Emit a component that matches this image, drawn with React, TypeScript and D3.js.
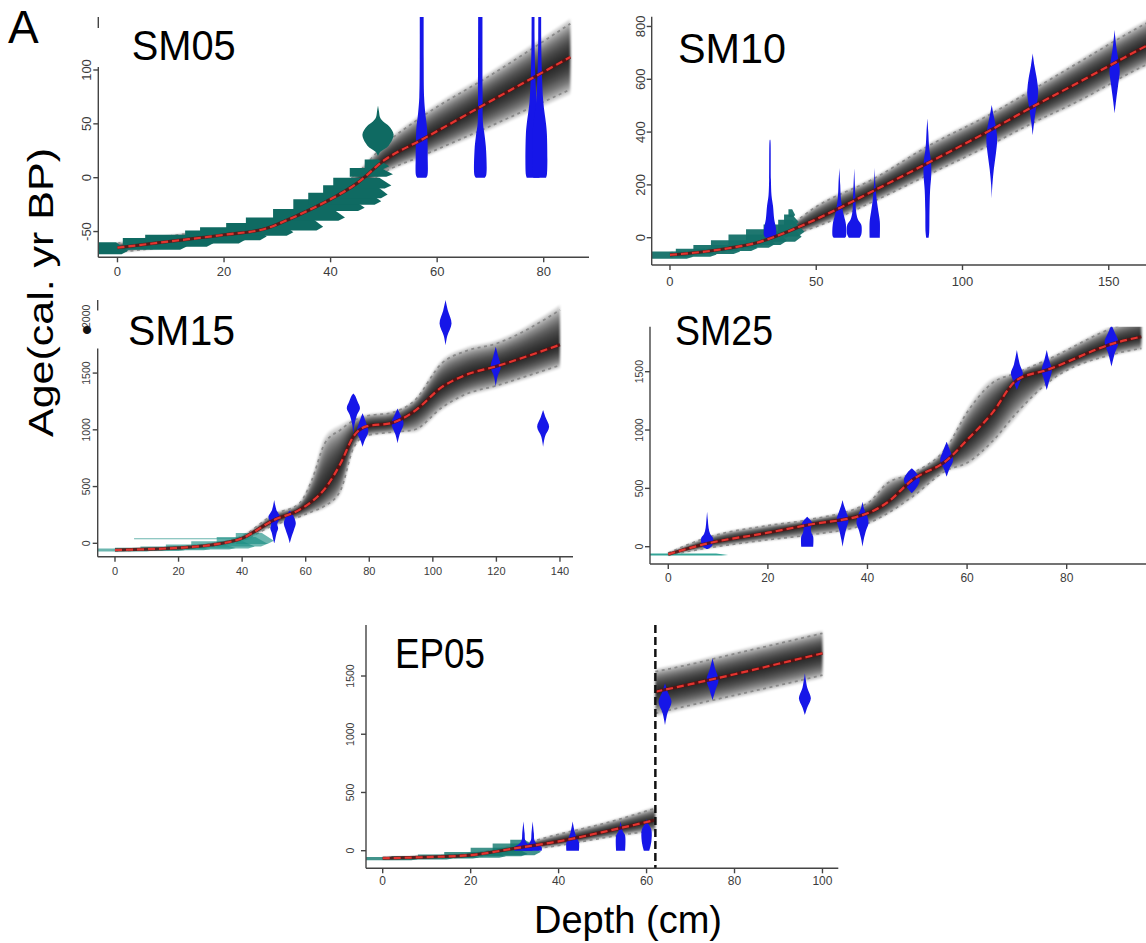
import React from 'react';
import * as d3 from 'd3';

type Prof = [number, number][];
interface DateV { depth: number; profile: Prof }
type Pb = [number, number, number, number]; // depth start, depth end, top age, bottom age
interface Segment { depth: number[]; mean: number[]; low: number[]; high: number[] }

// ---------------- SM05 ----------------
const sm05Depth = [0, 10, 20, 28, 32, 36, 40, 45, 50, 57, 70, 85];
const sm05Mean = [-65, -59, -53, -47, -39, -30, -20, -5, 16, 35, 71, 112];
const sm05Low = [-69, -64, -58, -52, -45, -36, -26, -12, 5, 20, 48, 82];
const sm05High = [-61, -54, -48, -42, -33, -24, -14, 4, 30, 56, 95, 143];
const sm05Dates: DateV[] = [
  { depth: 57.1, profile: [[0, 0.75], [2, 0.95], [20, 1.0], [45, 0.9], [60, 0.6], [75, 0.4], [110, 0.33], [170, 0.33]] },
  { depth: 68.1, profile: [[0, 0.75], [2, 0.97], [25, 0.97], [40, 0.7], [50, 0.45], [80, 0.38], [170, 0.36]] },
  { depth: 78.0, profile: [[0, 1.05], [3, 1.2], [40, 1.2], [50, 1.05], [70, 0.6], [100, 0.35], [130, 0.25], [170, 0.25]] },
  { depth: 79.25, profile: [[0, 1.05], [3, 1.2], [40, 1.2], [50, 1.05], [70, 0.6], [100, 0.35], [130, 0.25], [170, 0.25]] },
];
const sm05PbDates: DateV[] = [
  { depth: 48.9, profile: [[20, 0], [24, 0.4], [30, 1.8], [40, 2.6], [48, 1.8], [52, 0.9], [56, 0.35], [62, 0.15], [67, 0]] },
];
const sm05Pb: Pb[] = [
  [-3.6, 2, -60, -71], [1, 13, -56, -67], [5.2, 18, -53, -64], [12.7, 24, -49, -61],
  [15.5, 28, -46, -58], [20.4, 33, -42, -54], [24.1, 38.6, -37, -49], [29.2, 42.7, -29, -40],
  [33, 46.4, -20, -31], [35.8, 49.5, -14, -25], [38.6, 50.7, -7, -19], [40.5, 51.4, 0, -10],
  [43.6, 51.7, 9, 1], [46.4, 51, 17, 8],
];

// ---------------- SM10 ----------------
const sm10Depth = [0, 10, 20, 30, 40, 50, 70, 88, 110, 124, 140, 160, 166];
const sm10Mean = [-65, -55, -40, -18, 22, 70, 180, 282, 410, 496, 590, 710, 745];
const sm10Low = [-72, -63, -50, -30, 5, 42, 140, 237, 355, 435, 520, 640, 672];
const sm10High = [-58, -47, -30, -5, 40, 117, 225, 345, 470, 560, 665, 795, 830];
const sm10Dates: DateV[] = [
  { depth: 34.2, profile: [[0, 0.7], [8, 1.0], [35, 1.0], [70, 0.7], [120, 0.5], [160, 0.25], [220, 0.15], [370, 0.05], [372, 0]] },
  { depth: 57.9, profile: [[0, 0.9], [5, 1.1], [50, 1.1], [80, 0.8], [110, 0.5], [150, 0.25], [200, 0.15], [264, 0]] },
  { depth: 63, profile: [[0, 0.9], [10, 1.15], [30, 1.25], [50, 1.15], [70, 0.6], [100, 0.3], [150, 0.2], [264, 0]] },
  { depth: 70, profile: [[0, 0.85], [60, 0.85], [100, 0.6], [140, 0.35], [190, 0.15], [264, 0]] },
  { depth: 88, profile: [[0, 0.2], [20, 0.3], [100, 0.35], [180, 0.45], [240, 0.65], [290, 0.6], [340, 0.3], [400, 0.15], [452, 0]] },
  { depth: 110, profile: [[149, 0], [200, 0.1], [260, 0.35], [320, 0.7], [370, 0.9], [420, 0.7], [460, 0.35], [503, 0]] },
  { depth: 124, profile: [[389, 0], [430, 0.2], [480, 0.5], [530, 0.85], [560, 0.9], [600, 0.7], [650, 0.3], [698, 0]] },
  { depth: 152, profile: [[471, 0], [520, 0.25], [580, 0.6], [630, 0.85], [670, 0.65], [720, 0.3], [787, 0]] },
];
const sm10Pb: Pb[] = [
  [-6.2, 8, -52, -80], [2, 16, -42, -72], [8, 24, -28, -62], [14, 30, -10, -50],
  [20, 36, 12, -38], [26, 40, 32, -28], [32, 45, 50, -15], [37, 46, 68, 5],
  [39, 44, 88, 48], [40.5, 42.8, 108, 78],
];

// ---------------- SM15 ----------------
const sm15Depth = [0, 10, 20, 30, 40, 50, 58, 62, 66, 71, 75, 79, 87, 94, 103, 110, 120, 140];
const sm15Mean = [-59, -52, -40, -15, 45, 205, 295, 370, 480, 705, 940, 1030, 1060, 1160, 1380, 1480, 1560, 1750];
const sm15Low = [-64, -58, -48, -25, 28, 160, 235, 280, 330, 470, 840, 950, 980, 1000, 1200, 1310, 1390, 1570];
const sm15High = [-54, -46, -32, -5, 62, 255, 350, 560, 880, 1000, 1080, 1120, 1150, 1250, 1590, 1690, 1760, 2055];
const sm15Dates: DateV[] = [
  { depth: 50.1, profile: [[0, 0], [30, 0.15], [90, 0.4], [130, 0.65], [170, 0.5], [234, 0.97], [290, 0.4], [340, 0.15], [382, 0]] },
  { depth: 55, profile: [[0, 0], [50, 0.25], [120, 0.7], [176, 1.0], [230, 0.7], [270, 0.3], [290, 0]] },
  { depth: 75, profile: [[969, 0], [1050, 0.2], [1130, 0.6], [1190, 1.1], [1250, 0.7], [1300, 0.3], [1321, 0]] },
  { depth: 77.9, profile: [[851, 0], [900, 0.3], [983, 0.95], [1060, 0.6], [1120, 0.2], [1145, 0]] },
  { depth: 88.9, profile: [[881, 0], [950, 0.3], [1057, 1.0], [1130, 0.5], [1189, 0]] },
  { depth: 104, profile: [[1747, 0], [1830, 0.3], [1938, 1.0], [2050, 0.4], [2144, 0]] },
  { depth: 119.8, profile: [[1380, 0], [1470, 0.3], [1556, 0.85], [1650, 0.4], [1732, 0]] },
  { depth: 134.7, profile: [[851, 0], [940, 0.3], [1027, 1.0], [1110, 0.4], [1174, 0]] },
];
const sm15Pb: Pb[] = [
  [-5.4, 12, -45, -72], [0, 22, -40, -68], [8, 30, -28, -62], [16, 38, -10, -55],
  [24, 44, 18, -45], [32, 48, 55, -28], [38, 50, 90, -5], [6, 44, 45, 35],
];

// ---------------- SM25 ----------------
const sm25Depth = [0, 8, 20, 28, 40, 44, 49, 56, 60, 65, 70, 76, 90, 95];
const sm25Mean = [-65, 29, 120, 186, 286, 380, 572, 743, 915, 1143, 1429, 1514, 1750, 1800];
const sm25Low = [-70, -10, 60, 100, 200, 286, 429, 657, 720, 900, 1150, 1400, 1657, 1700];
const sm25High = [-55, 80, 180, 229, 372, 543, 629, 857, 1150, 1400, 1490, 1600, 1886, 1950];
const sm25Dates: DateV[] = [
  { depth: 7.8, profile: [[-20, 0], [0, 0.7], [40, 1.0], [72, 1.0], [110, 0.5], [160, 0.25], [230, 0.12], [300, 0]] },
  { depth: 27.9, profile: [[0, 1.0], [85, 1.0], [120, 0.7], [160, 0.6], [200, 0.85], [230, 0.5], [257, 0]] },
  { depth: 35, profile: [[0, 0], [60, 0.2], [150, 0.6], [229, 1.0], [300, 0.6], [350, 0.25], [400, 0]] },
  { depth: 39, profile: [[0, 0], [60, 0.2], [140, 0.6], [200, 1.0], [260, 0.8], [320, 0.3], [386, 0]] },
  { depth: 48.9, profile: [[458, 0], [500, 0.7], [572, 1.33], [630, 0.8], [672, 0]] },
  { depth: 55.9, profile: [[600, 0], [660, 0.4], [743, 1.08], [820, 0.6], [900, 0]] },
  { depth: 70, profile: [[1343, 0], [1410, 0.5], [1486, 1.0], [1560, 0.5], [1686, 0]] },
  { depth: 76, profile: [[1343, 0], [1420, 0.4], [1514, 0.85], [1600, 0.4], [1686, 0]] },
  { depth: 89, profile: [[1543, 0], [1650, 0.5], [1757, 1.15], [1830, 0.6], [1900, 0]] },
];
const sm25Pb: Pb[] = [[-3.7, 12, -58, -76]];

// ---------------- EP05 ----------------
const ep05DepthA = [0, 10, 20, 30, 40, 50, 62];
const ep05MeanA = [-65, -55, -38, 20, 80, 160, 264];
const ep05LowA = [-70, -62, -50, 0, 45, 110, 178];
const ep05HighA = [-60, -48, -25, 40, 140, 230, 364];
const ep05DepthB = [62, 70, 80, 90, 100];
const ep05MeanB = [1365, 1430, 1515, 1605, 1695];
const ep05LowB = [1180, 1250, 1335, 1420, 1508];
const ep05HighB = [1537, 1600, 1690, 1778, 1866];
const ep05Hiatus = 62;
const ep05Dates: DateV[] = [
  { depth: 32, profile: [[0, 1.5], [30, 1.5], [60, 0.7], [90, 0.3], [150, 0.2], [250, 0]] },
  { depth: 34.1, profile: [[0, 1.5], [30, 1.5], [60, 0.7], [90, 0.3], [150, 0.2], [250, 0]] },
  { depth: 43.2, profile: [[0, 1.05], [70, 1.05], [120, 0.6], [170, 0.3], [250, 0]] },
  { depth: 54.1, profile: [[0, 0.75], [130, 0.75], [170, 0.35], [250, 0]] },
  { depth: 60, profile: [[0, 0.45], [80, 0.8], [180, 0.8], [230, 0.3], [270, 0]] },
  { depth: 64.2, profile: [[1079, 0], [1180, 0.4], [1279, 1.08], [1370, 0.4], [1437, 0]] },
  { depth: 75, profile: [[1294, 0], [1380, 0.5], [1466, 1.0], [1560, 0.45], [1652, 0]] },
  { depth: 96, profile: [[1165, 0], [1230, 0.4], [1308, 1.0], [1400, 0.4], [1523, 0]] },
];
const ep05Pb: Pb[] = [
  [-3.8, 8, -55, -82], [2, 16, -46, -76], [8, 22, -33, -68], [14, 28, -12, -60],
  [20, 33, 25, -48], [25, 36, 62, -38], [29, 35, 95, 0],
];

// ---------------- tick values ----------------
const sm05XTicks = [0, 20, 40, 60, 80];
const sm05YTicks = [-50, 0, 50, 100];
const sm10XTicks = [0, 50, 100, 150];
const sm10YTicks = [0, 200, 400, 600, 800];
const sm15XTicks = [0, 20, 40, 60, 80, 100, 120, 140];
const sm15YTicks = [0, 500, 1000, 1500, 2000];
const sm25XTicks = [0, 20, 40, 60, 80];
const sm25YTicks = [0, 500, 1000, 1500];
const ep05XTicks = [0, 20, 40, 60, 80, 100];
const ep05YTicks = [0, 500, 1000, 1500];

interface Panel {
  id: string; title: string;
  frame: { left: number; right: number; top: number; bottom: number };
  xDomain: [number, number]; yDomain: [number, number];
  xTicks: number[]; yTicks: number[];
  segments: Segment[];
  dates: DateV[]; pbDates: DateV[]; pb: Pb[];
  pbColor: string; pbOpacity: number;
  hiatus?: number;
  titlePos: [number, number]; titleWidth: number;
  titleBox?: [number, number, number, number];
  xFont: number; yFont: number; xLabelOff: number; yLabelOff: number;
  bullet?: [number, number];
}

const panels: Panel[] = [
  {
    id: 'sm05', title: 'SM05',
    frame: { left: 98.3, right: 589, top: 17, bottom: 257.3 },
    xDomain: [-3.6, 88.5], yDomain: [-73.9, 149.2],
    xTicks: sm05XTicks, yTicks: sm05YTicks,
    segments: [{ depth: sm05Depth, mean: sm05Mean, low: sm05Low, high: sm05High }],
    dates: sm05Dates, pbDates: sm05PbDates, pb: sm05Pb, pbColor: '#0f6a62', pbOpacity: 1,
    titlePos: [131.7, 60], titleWidth: 104, titleBox: [92, 28, 152, 39],
    xFont: 13, yFont: 13, xLabelOff: 14.5, yLabelOff: 12.3,
  },
  {
    id: 'sm10', title: 'SM10',
    frame: { left: 651.7, right: 1150, top: 16.7, bottom: 265 },
    xDomain: [-6.25, 164.1], yDomain: [-103.4, 837],
    xTicks: sm10XTicks, yTicks: sm10YTicks,
    segments: [{ depth: sm10Depth, mean: sm10Mean, low: sm10Low, high: sm10High }],
    dates: sm10Dates, pbDates: [], pb: sm10Pb, pbColor: '#137068', pbOpacity: 0.95,
    titlePos: [678, 63.3], titleWidth: 108,
    xFont: 13, yFont: 13, xLabelOff: 16, yLabelOff: 11.7,
  },
  {
    id: 'sm15', title: 'SM15',
    frame: { left: 97.7, right: 573, top: 300, bottom: 556.7 },
    xDomain: [-5.44, 144.1], yDomain: [-118, 2144],
    xTicks: sm15XTicks, yTicks: sm15YTicks,
    segments: [{ depth: sm15Depth, mean: sm15Mean, low: sm15Low, high: sm15High }],
    dates: sm15Dates, pbDates: [], pb: sm15Pb, pbColor: '#1b8f84', pbOpacity: 0.65,
    titlePos: [128, 345], titleWidth: 107, titleBox: [92, 310.5, 148, 38],
    xFont: 11, yFont: 10.5, xLabelOff: 14.3, yLabelOff: 11.7,
    bullet: [87, 330],
  },
  {
    id: 'sm25', title: 'SM25',
    frame: { left: 650, right: 1150, top: 326.7, bottom: 564 },
    xDomain: [-3.67, 96.73], yDomain: [-148.3, 1885.7],
    xTicks: sm25XTicks, yTicks: sm25YTicks,
    segments: [{ depth: sm25Depth, mean: sm25Mean, low: sm25Low, high: sm25High }],
    dates: sm25Dates, pbDates: [], pb: sm25Pb, pbColor: '#1d9a8c', pbOpacity: 0.9,
    titlePos: [675, 345], titleWidth: 98,
    xFont: 12, yFont: 10.5, xLabelOff: 14, yLabelOff: 11,
  },
  {
    id: 'ep05', title: 'EP05',
    frame: { left: 366, right: 838.3, top: 625, bottom: 868.3 },
    xDomain: [-3.8, 103.6], yDomain: [-151.1, 1938],
    xTicks: ep05XTicks, yTicks: ep05YTicks,
    segments: [
      { depth: ep05DepthA, mean: ep05MeanA, low: ep05LowA, high: ep05HighA },
      { depth: ep05DepthB, mean: ep05MeanB, low: ep05LowB, high: ep05HighB },
    ],
    dates: ep05Dates, pbDates: [], pb: ep05Pb, pbColor: '#12786e', pbOpacity: 0.8,
    hiatus: ep05Hiatus,
    titlePos: [395, 668.3], titleWidth: 90,
    xFont: 12, yFont: 10.5, xLabelOff: 12.7, yLabelOff: 16,
  },
];

const FONT = "'Liberation Sans', Arial, Helvetica, sans-serif";
const W_UNIT = 6;
const N_LAYERS = 14;

function PanelView({ p }: { p: Panel }) {
  const x = d3.scaleLinear().domain(p.xDomain).range([p.frame.left, p.frame.right]);
  const y = d3.scaleLinear().domain(p.yDomain).range([p.frame.bottom, p.frame.top]);
  const { left, right, top, bottom } = p.frame;
  const clipId = `clip-${p.id}`;
  const fracs = d3.range(N_LAYERS).map(k => 0.08 + (1.15 - 0.08) * k / (N_LAYERS - 1));

  const bandPath = (seg: Segment, f: number) =>
    d3.area<number>()
      .x(i => x(seg.depth[i]))
      .y0(i => y(seg.mean[i] - f * (seg.mean[i] - seg.low[i])))
      .y1(i => y(seg.mean[i] + f * (seg.high[i] - seg.mean[i])))
      .curve(d3.curveMonotoneX)(d3.range(seg.depth.length)) || '';
  const linePath = (seg: Segment, key: 'mean' | 'low' | 'high') =>
    d3.line<number>()
      .x(i => x(seg.depth[i]))
      .y(i => y(seg[key][i]))
      .curve(d3.curveMonotoneX)(d3.range(seg.depth.length)) || '';
  const violinPath = (v: DateV) =>
    d3.area<[number, number]>()
      .y(d => y(d[0]))
      .x0(d => x(v.depth) - d[1] * W_UNIT)
      .x1(d => x(v.depth) + d[1] * W_UNIT)
      .curve(d3.curveCatmullRom.alpha(0.5))(v.profile) || '';
  const pbPath = ([d0, d1, a0, a1]: Pb) => {
    const x0 = x(d0), x1 = x(d1), yT = y(a0), yB = y(a1);
    const tl = Math.min(12, (x1 - x0) * 0.45);
    return `M${x0},${yT}L${x1 - tl},${yT}L${x1},${yT + 0.72 * (yB - yT)}L${x1 - tl * 0.55},${yB}L${x0},${yB}Z`;
  };

  return (
    <g>
      <defs>
        <clipPath id={clipId}>
          <rect x={left} y={top} width={right - left} height={bottom - top} />
        </clipPath>
      </defs>
      <g clipPath={`url(#${clipId})`}>
        <g filter="url(#soft)">
          {p.segments.map((seg, si) =>
            fracs.map((f, k) => (
              <path key={`b${si}-${k}`} d={bandPath(seg, f)} fill="#000" fillOpacity={0.13} />
            ))
          )}
        </g>
        {p.segments.map((seg, si) => (
          <g key={`r${si}`}>
            <path d={linePath(seg, 'low')} fill="none" stroke="#8a8a8a" strokeWidth={1.8} strokeDasharray="3 3.5" />
            <path d={linePath(seg, 'high')} fill="none" stroke="#8a8a8a" strokeWidth={1.8} strokeDasharray="3 3.5" />
          </g>
        ))}
        <g fill={p.pbColor} fillOpacity={p.pbOpacity}>
          {p.pb.map((s, i) => <path key={`pb${i}`} d={pbPath(s)} />)}
        </g>
        {p.pbDates.map((v, i) => <path key={`pd${i}`} d={violinPath(v)} fill={p.pbColor} />)}
        {p.dates.map((v, i) => <path key={`v${i}`} d={violinPath(v)} fill="#1616e8" />)}
        {p.segments.map((seg, si) => (
          <g key={`m${si}`}>
            <path d={linePath(seg, 'mean')} fill="none" stroke="#5e0f0f" strokeWidth={3.2} strokeOpacity={0.85} />
            <path d={linePath(seg, 'mean')} fill="none" stroke="#e3342f" strokeWidth={2.2} strokeDasharray="7 4" />
          </g>
        ))}
        {p.hiatus !== undefined && (
          <line x1={x(p.hiatus)} x2={x(p.hiatus)} y1={top} y2={bottom} stroke="#111" strokeWidth={2.5} strokeDasharray="8 4" />
        )}
      </g>
      <g stroke="#444" strokeWidth={1.4} fill="none">
        <line x1={left} x2={left} y1={top} y2={bottom} />
        <line x1={left} x2={right} y1={bottom} y2={bottom} />
        {p.xTicks.map(t => <line key={`xt${t}`} x1={x(t)} x2={x(t)} y1={bottom} y2={bottom + 5} />)}
        {p.yTicks.map(t => <line key={`yt${t}`} x1={left - 5} x2={left} y1={y(t)} y2={y(t)} />)}
      </g>
      <g fill="#3c3c3c" fontFamily={FONT}>
        {p.xTicks.map(t => (
          <text key={`xl${t}`} x={x(t)} y={bottom + p.xLabelOff} dy="0.35em" textAnchor="middle" fontSize={p.xFont}>{t}</text>
        ))}
        {p.yTicks.map(t => (
          <text key={`yl${t}`} transform={`translate(${left - p.yLabelOff},${y(t)}) rotate(-90)`} dy="0.35em" textAnchor="middle" fontSize={p.yFont}>{t}</text>
        ))}
      </g>
      {p.titleBox && (
        <rect x={p.titleBox[0]} y={p.titleBox[1]} width={p.titleBox[2]} height={p.titleBox[3]} fill="#fff" />
      )}
      <text x={p.titlePos[0]} y={p.titlePos[1]} fontFamily={FONT} fontSize={42} fill="#000"
        textLength={p.titleWidth} lengthAdjust="spacingAndGlyphs">{p.title}</text>
      {p.bullet && (
        <text x={p.bullet[0]} y={p.bullet[1]} dy="0.33em" textAnchor="middle" fontFamily={FONT} fontSize={30} fill="#111">•</text>
      )}
    </g>
  );
}

export default function App() {
  return (
    <svg width={1146} height={943} viewBox="0 0 1146 943"
      style={{ position: 'absolute', left: 0, top: 0, background: '#fff', display: 'block' }}>
      <defs>
        <filter id="soft" x="-5%" y="-5%" width="110%" height="110%">
          <feGaussianBlur stdDeviation={1.3} />
        </filter>
      </defs>
      <rect x={0} y={0} width={1146} height={943} fill="#fff" />
      {panels.map(p => <PanelView key={p.id} p={p} />)}
      <text x={8} y={43} fontFamily={FONT} fontSize={46} fill="#000">A</text>
      <text transform="translate(53.3,292.5) rotate(-90)" textAnchor="middle" fontFamily={FONT} fontSize={35}
        textLength={289} lengthAdjust="spacingAndGlyphs" fill="#000">Age(cal. yr BP)</text>
      <text x={628} y={933} textAnchor="middle" fontFamily={FONT} fontSize={38} fill="#000">Depth (cm)</text>
    </svg>
  );
}
